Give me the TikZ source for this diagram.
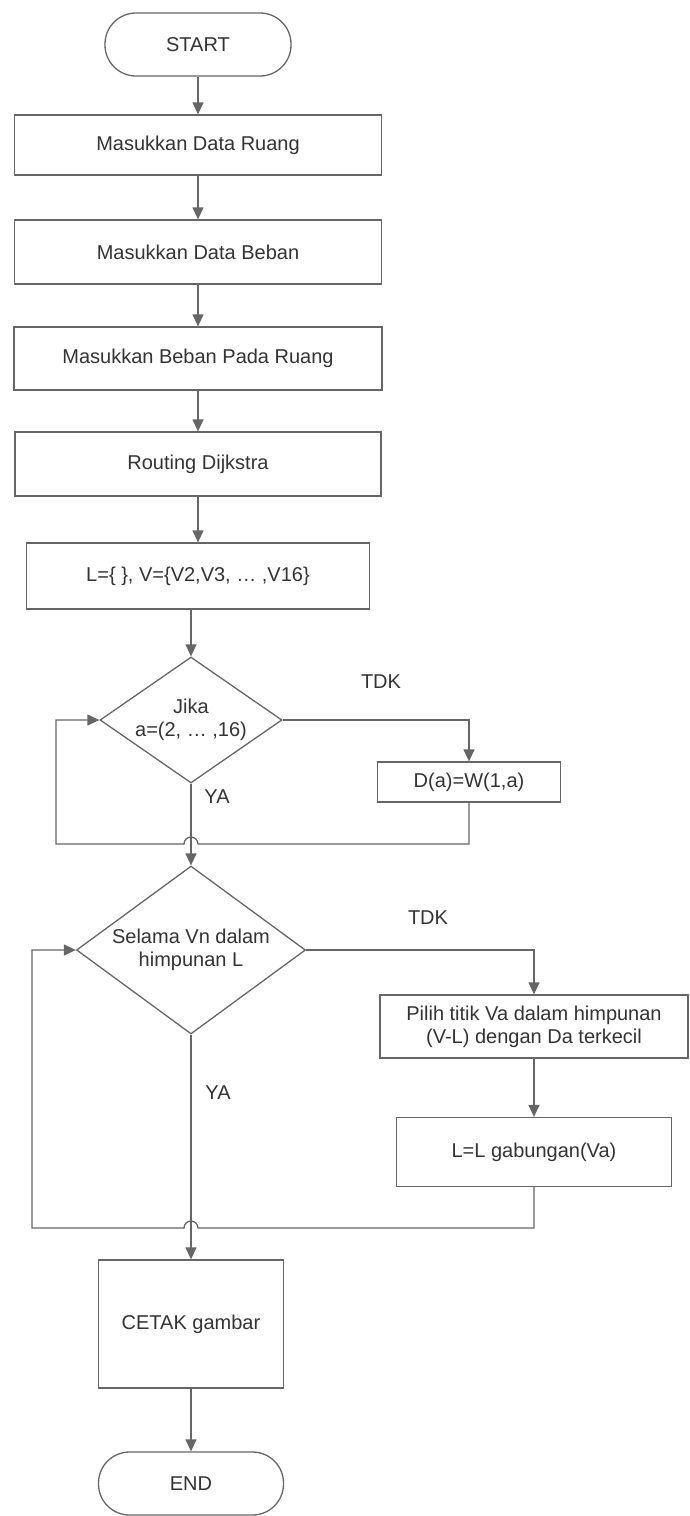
\documentclass[tikz,border=0pt]{standalone}
\usepackage{fontspec}
\setmainfont{Liberation Sans}
\usetikzlibrary{arrows.meta,shapes.geometric}

\begin{document}
\begin{tikzpicture}[
		x=1pt,
		y=-1pt,
		every node/.style={font=\fontsize{20}{23}\selectfont, text=black!80},
		procbox/.style={draw=black!60, line width=1.3pt, rectangle, inner sep=0pt, align=center},
		termbox/.style={draw=black!60, line width=1.3pt, rectangle, rounded corners=31pt,
			minimum width=186pt, minimum height=63pt},
		decbox/.style={draw=black!60, line width=1.3pt, diamond, aspect=1.4, inner sep=0pt, align=center},
		flow/.style={draw=black!60, line width=1.3pt},
		arr/.style={flow, -{Triangle[width=11pt,length=12pt]}}
		]
		
		\def\HopRadius{7pt}
		
		% Page frame of the scanned flowchart.
		\useasboundingbox (0,0) rectangle (689,1516);
		
		% Input steps down the main column.
		\node[termbox] (start) at (198,44.5) {START};
		\node[procbox, minimum width=367pt, minimum height=60pt] (ruang) at (198,145) {Masukkan Data Ruang};
		\node[procbox, minimum width=367pt, minimum height=64pt] (beban) at (198,252) {Masukkan Data Beban};
		\node[procbox, minimum width=368pt, minimum height=63pt] (bebanruang) at (198,358.5) {Masukkan Beban Pada Ruang};
		\node[procbox, minimum width=366pt, minimum height=64pt] (routing) at (198,464) {Routing Dijkstra};
		\node[procbox, minimum width=343pt, minimum height=66pt] (init) at (198,576) {L=\{ \}, V=\{V2,V3, \ldots\ ,V16\}};
		
		% First decision with its side step.
		\node[decbox, minimum width=182pt, minimum height=126pt] (jika) at (191,720) {Jika\\a=(2, \ldots\ ,16)};
		\node[procbox, minimum width=183pt, minimum height=40pt] (dist) at (469,782) {D(a)=W(1,a)};
		\node (tdkjika) at (381,682) {TDK};
		\node (yajika) at (217,797) {YA};
		\coordinate (loopjika) at (56,844);
		
		% Second decision with its two side steps.
		\node[decbox, minimum width=229pt, minimum height=168pt] (selama) at (191,950) {Selama Vn dalam\\himpunan L};
		\node[procbox, minimum width=308pt, minimum height=63pt] (pilih) at (534,1026.5) {Pilih titik Va dalam himpunan\\(V-L) dengan Da terkecil};
		\node[procbox, minimum width=275pt, minimum height=69pt] (gabung) at (534,1152) {L=L gabungan(Va)};
		\node (tdkselama) at (428,918) {TDK};
		\node (yaselama) at (218,1093) {YA};
		\coordinate (loopselama) at (32,1228);
		
		% Output and end.
		\node[procbox, minimum width=185pt, minimum height=128pt] (cetak) at (191,1324) {CETAK gambar};
		\node[termbox, minimum width=185pt] (finish) at (191,1483.5) {END};
		
		% Main column arrows.
		\draw[arr] (start) -- (ruang);
		\draw[arr] (ruang) -- (beban);
		\draw[arr] (beban) -- (bebanruang);
		\draw[arr] (bebanruang) -- (routing);
		\draw[arr] (routing) -- (init);
		\draw[arr] (init.south -| jika.north) -- (jika.north);
		\draw[arr] (jika.south) -- (selama.north);
		\draw[arr] (selama.south) -- (cetak.north);
		\draw[arr] (cetak.south) -- (finish.north);
		
		% TDK branches and the loops back, hopping over the main column.
		\draw[arr] (jika.east) -| (dist.north);
		\draw[arr] (dist.south) -- (dist.south |- loopjika)
		-- ([xshift=\HopRadius]jika.south |- loopjika) arc[start angle=0, end angle=180, radius=\HopRadius]
		-- (loopjika) |- (jika.west);
		
		\draw[arr] (selama.east) -| (pilih.north);
		\draw[arr] (pilih.south) -- (gabung.north);
		\draw[arr] (gabung.south) -- (gabung.south |- loopselama)
		-- ([xshift=\HopRadius]selama.south |- loopselama) arc[start angle=0, end angle=180, radius=\HopRadius]
		-- (loopselama) |- (selama.west);
		
	\end{tikzpicture}
\end{document}
